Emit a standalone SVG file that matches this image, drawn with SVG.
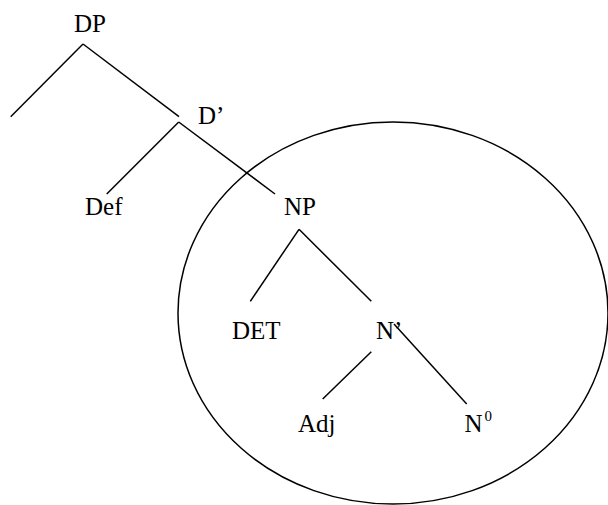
<svg xmlns="http://www.w3.org/2000/svg" width="608" height="505" viewBox="0 0 608 505">
<style>
text{font-family:"Liberation Serif","Times New Roman",serif;font-size:25px;fill:#000}
.sup{font-size:15px}
line,ellipse{stroke:#000;stroke-width:1.5;fill:none}
</style>
<rect width="608" height="505" fill="#fff"/>
<ellipse id="circle" cx="393" cy="313" rx="215" ry="191"/>
<g id="connectors">
<line x1="83" y1="44" x2="10.7" y2="116.7"/>
<line x1="83" y1="44" x2="179" y2="116.7"/>
<line x1="178.7" y1="122" x2="106.7" y2="194"/>
<line x1="178.7" y1="122" x2="275" y2="194"/>
<line x1="299" y1="229.3" x2="250.3" y2="301.3"/>
<line x1="299" y1="229.3" x2="371.3" y2="301.3"/>
<line x1="371.3" y1="351.7" x2="322.7" y2="399"/>
<line x1="394" y1="324" x2="466.7" y2="404"/>
</g>
<g id="DP"><text x="74" y="32">DP</text></g>
<g id="Dbar"><text x="198" y="124">D’</text></g>
<g id="Def"><text x="85" y="215">Def</text></g>
<g id="NP"><text x="284" y="215">NP</text></g>
<g id="DET"><text x="232" y="339">DET</text></g>
<g id="Nbar"><text x="376" y="339">N’</text></g>
<g id="Adj"><text x="298" y="432">Adj</text></g>
<g id="N0"><text x="464.5" y="432">N</text><text class="sup" x="484.5" y="420.5">0</text></g>
</svg>
